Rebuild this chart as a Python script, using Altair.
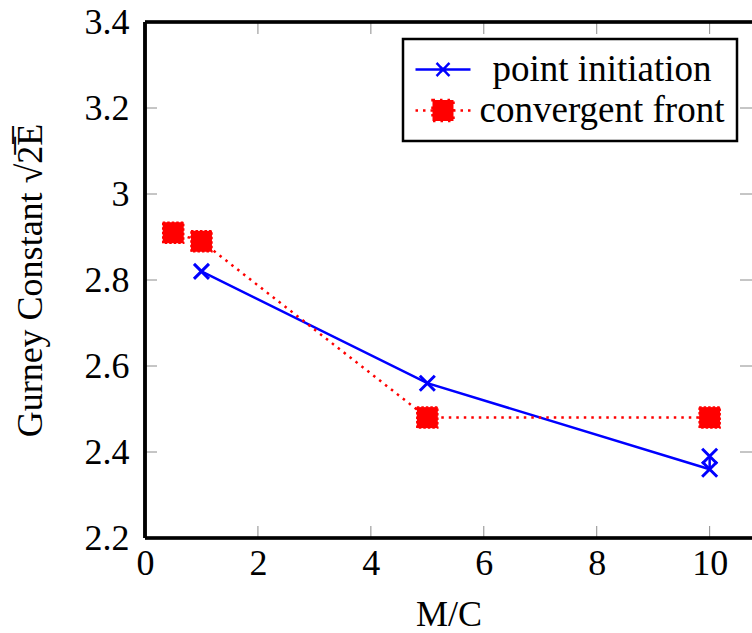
import altair as alt
import pandas as pd

# ---- data ----
series_names = ["point initiation", "convergent front"]
x_point = [1, 5, 10, 10]
y_point = [2.82, 2.56, 2.36, 2.39]
x_conv = [0.5, 1, 5, 10]
y_conv = [2.91, 2.89, 2.48, 2.48]
x_ticks = [0, 2, 4, 6, 8, 10]
y_ticks = [2.2, 2.4, 2.6, 2.8, 3.0, 3.2, 3.4]
x_domain = [0, 10.75]
y_domain = [2.2, 3.4]

W, H = 607, 516
FONT = "Liberation Serif, Times New Roman, Times, serif"
FS = 36
BLUE = "#0000ff"
RED = "#ff0000"
TICK = 12

df_point = pd.DataFrame({"x": x_point, "y": y_point, "idx": list(range(len(x_point))),
                         "series": series_names[0]})
df_conv = pd.DataFrame({"x": x_conv, "y": y_conv, "idx": list(range(len(x_conv))),
                        "series": series_names[1]})
df_all = pd.concat([df_point, df_conv], ignore_index=True)
df_xt = pd.DataFrame({"x": x_ticks})
df_yt = pd.DataFrame({"y": y_ticks})

xscale = alt.Scale(domain=x_domain, nice=False, zero=False)
yscale = alt.Scale(domain=y_domain, nice=False, zero=False)

xaxis = alt.Axis(values=x_ticks, ticks=False, domain=False, grid=False, format="~r",
                 labelFont=FONT, labelFontSize=FS, labelColor="black", labelPadding=8,
                 labelFlush=False, title="M/C", titleFont=FONT, titleFontSize=FS,
                 titleFontWeight="normal", titleColor="black", titlePadding=16)
yaxis = alt.Axis(values=y_ticks, ticks=False, domain=False, grid=False, format="~r",
                 labelFont=FONT, labelFontSize=FS, labelColor="black", labelPadding=16,
                 labelFlush=False, title="Gurney Constant \u221a2\u0305E\u0305",
                 titleFont=FONT, titleFontSize=FS, titleFontWeight="normal",
                 titleColor="black", titlePadding=35)

X = alt.X("x:Q", scale=xscale, axis=xaxis)
Y = alt.Y("y:Q", scale=yscale, axis=yaxis)

tick_style = dict(color="#8c8c8c", strokeWidth=1)
bottom_ticks = alt.Chart(df_xt).mark_rule(**tick_style).encode(
    x=X, y=alt.value(H), y2=alt.value(H - TICK))
top_ticks = alt.Chart(df_xt).mark_rule(**tick_style).encode(
    x=X, y=alt.value(0), y2=alt.value(TICK))
left_ticks = alt.Chart(df_yt).mark_rule(**tick_style).encode(
    y=Y, x=alt.value(0), x2=alt.value(TICK))
right_ticks = alt.Chart(df_yt).mark_rule(**tick_style).encode(
    y=Y, x=alt.value(W), x2=alt.value(W - TICK))

# frame (left, top, bottom; the right edge lies at the window edge)
frame_style = dict(color="black", strokeWidth=2.7)
frame_left = alt.Chart(df_xt).mark_rule(**frame_style).encode(
    x=alt.value(0), y=alt.value(0), y2=alt.value(H))
frame_top = alt.Chart(df_xt).mark_rule(**frame_style).encode(
    x=alt.value(0), x2=alt.value(W + 2), y=alt.value(0))
frame_bottom = alt.Chart(df_xt).mark_rule(**frame_style).encode(
    x=alt.value(0), x2=alt.value(W + 2), y=alt.value(H))

point_line = alt.Chart(df_point).mark_line(color=BLUE, strokeWidth=2.5).encode(
    x=X, y=Y, order="idx:Q")
point_marks = alt.Chart(df_point).mark_point(
    shape="M-1,-1L1,1M-1,1L1,-1", size=225, color=BLUE, strokeWidth=3,
    filled=False, opacity=1).encode(x=X, y=Y)

conv_line = alt.Chart(df_conv).mark_line(color=RED, strokeWidth=2.5,
                                         strokeDash=[2.5, 5]).encode(
    x=X, y=Y, order="idx:Q")
conv_marks = alt.Chart(df_conv).mark_point(
    shape="square", size=441, color=RED, filled=True, opacity=1,
    stroke=RED, strokeWidth=1.5, strokeDash=[2.5, 2]).encode(x=X, y=Y)

# legend (line + marker symbols), drawn by Vega-Lite's legend.
# symbol unit = 15 px (size 900); line spans 55 px around the symbol anchor
path_point = ("M-1.2,0L2.467,0M0.2,-0.433L1.067,0.433M0.2,0.433L1.067,-0.433")
path_conv = ("M-1.2,0L2.467,0M-0.067,-0.7L1.333,-0.7L1.333,0.7L-0.067,0.7Z")
leg = alt.Legend(title=None, orient="none", legendX=258, legendY=17,
                 strokeColor="black", fillColor="white", padding=12,
                 labelFont=FONT, labelFontSize=37, labelColor="black",
                 labelAlign="center", labelOffset=150, labelLimit=400,
                 symbolSize=900, symbolStrokeWidth=2.5, symbolOpacity=1,
                 rowPadding=3, labelBaseline="middle")
legend_layer = alt.Chart(df_all).mark_point(filled=True, opacity=0).encode(
    x=X, y=Y,
    shape=alt.Shape("series:N", scale=alt.Scale(domain=series_names,
                                                range=[path_point, path_conv]), legend=leg),
    fill=alt.Fill("series:N", scale=alt.Scale(domain=series_names, range=[BLUE, RED]),
                  legend=leg),
    stroke=alt.Stroke("series:N", scale=alt.Scale(domain=series_names, range=[BLUE, RED]),
                      legend=leg),
    strokeDash=alt.StrokeDash("series:N", scale=alt.Scale(domain=series_names,
                                                          range=[[1, 0], [2.5, 5]]),
                              legend=leg),
)

chart = alt.layer(
    bottom_ticks, top_ticks, left_ticks, right_ticks,
    frame_left, frame_top, frame_bottom,
    point_line, conv_line, point_marks, conv_marks, legend_layer,
).properties(
    width=W, height=H,
    autosize=alt.AutoSizeParams(type="none"),
    padding={"left": 145, "top": 22, "right": 0, "bottom": 95},
).configure(
    background="white"
).configure_view(strokeWidth=0).configure_legend(strokeWidth=2.5)

chart.save("out.html", embed_options={"renderer": "svg", "actions": False})
